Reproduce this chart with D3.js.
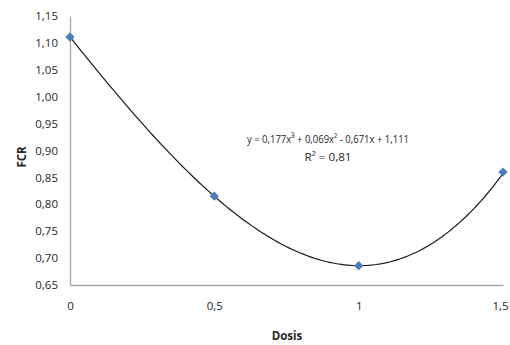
<!DOCTYPE html>
<html>
<head>
<meta charset="utf-8">
<script src="https://cdn.jsdelivr.net/npm/d3@7"></script>
<style>
  body { margin: 0; background: #fff; }
  text { font-family: "Open Sans", "Liberation Sans", sans-serif; }
</style>
</head>
<body>
<svg width="510" height="345"></svg>
<script>
// data
var dosis = [0, 0.5, 1, 1.5];
var fcr = [1.111, 0.815, 0.686, 0.86];
var xTicks = [0, 0.5, 1, 1.5];
var yTicks = [0.65, 0.70, 0.75, 0.80, 0.85, 0.90, 0.95, 1.00, 1.05, 1.10, 1.15];
// trend line coefficients (x^3, x^2, x, c)
var coef = [0.177, 0.069, -0.671, 1.111];

var svg = d3.select("svg");
var margin = {left: 70, top: 16, right: 7, bottom: 60};
var w = 510 - margin.left - margin.right;
var h = 345 - margin.top - margin.bottom;

var x = d3.scaleLinear().domain([0, 1.5]).range([0, w]);
var y = d3.scaleLinear().domain([0.65, 1.15]).range([h, 0]);

var comma = function(d, n){ return d.toFixed(n).replace(".", ","); };

var g = svg.append("g").attr("transform", "translate(" + margin.left + "," + margin.top + ")");

// y axis
var yAxis = g.append("g").call(d3.axisLeft(y).tickValues(yTicks).tickSize(0).tickPadding(12)
    .tickFormat(function(d){ return comma(d, 2); }));
yAxis.select(".domain").attr("stroke", "#a6a6a6").attr("stroke-width", 1.3);
yAxis.selectAll("text").attr("font-size", 11.5).attr("fill", "#262626");

// x axis
var xAxis = g.append("g").attr("transform", "translate(0," + h + ")")
    .call(d3.axisBottom(x).tickValues(xTicks).tickSize(0).tickPadding(17)
    .tickFormat(function(d){ return d === 0 || d === 1 ? String(d) : comma(d, 1); }));
xAxis.select(".domain").attr("stroke", "#a6a6a6").attr("stroke-width", 1.3);
xAxis.selectAll("text").attr("font-size", 11.5).attr("fill", "#262626")
    .attr("dx", function(d){ return d === 1.5 ? -3 : 0; });

// trend line
var trend = d3.range(0, 1.5001, 0.01).map(function(v){
    return [v, coef[0]*v*v*v + coef[1]*v*v + coef[2]*v + coef[3]];
});
g.append("path").datum(trend)
    .attr("fill", "none").attr("stroke", "#1a1a1a").attr("stroke-width", 1.2)
    .attr("d", d3.line().x(function(d){ return x(d[0]); }).y(function(d){ return y(d[1]); }));

// markers
g.selectAll(".pt").data(dosis).enter().append("path")
    .attr("class", "pt")
    .attr("d", d3.symbol().type(d3.symbolDiamond2).size(55))
    .attr("transform", function(d, i){ return "translate(" + x(d) + "," + y(fcr[i]) + ")"; })
    .attr("fill", "#4a7ebb");

// equation
svg.append("text").attr("x", 328).attr("y", 143).attr("text-anchor", "middle")
    .attr("font-size", 11.5).attr("fill", "#262626")
    .attr("textLength", 162).attr("lengthAdjust", "spacingAndGlyphs")
    .text("y = 0,177x\u00b3 + 0,069x\u00b2 - 0,671x + 1,111");
svg.append("text").attr("x", 328).attr("y", 161).attr("text-anchor", "middle")
    .attr("font-size", 11.5).attr("fill", "#262626")
    .attr("textLength", 47).attr("lengthAdjust", "spacingAndGlyphs")
    .text("R\u00b2 = 0,81");

// axis titles
svg.append("text").attr("x", 287).attr("y", 340).attr("text-anchor", "middle")
    .attr("font-size", 11.5).attr("font-weight", "bold").attr("fill", "#262626").text("Dosis");
svg.append("text").attr("transform", "translate(26,157) rotate(-90)").attr("text-anchor", "middle")
    .attr("font-size", 11.5).attr("font-weight", "bold").attr("fill", "#262626").text("FCR");
</script>
</body>
</html>
